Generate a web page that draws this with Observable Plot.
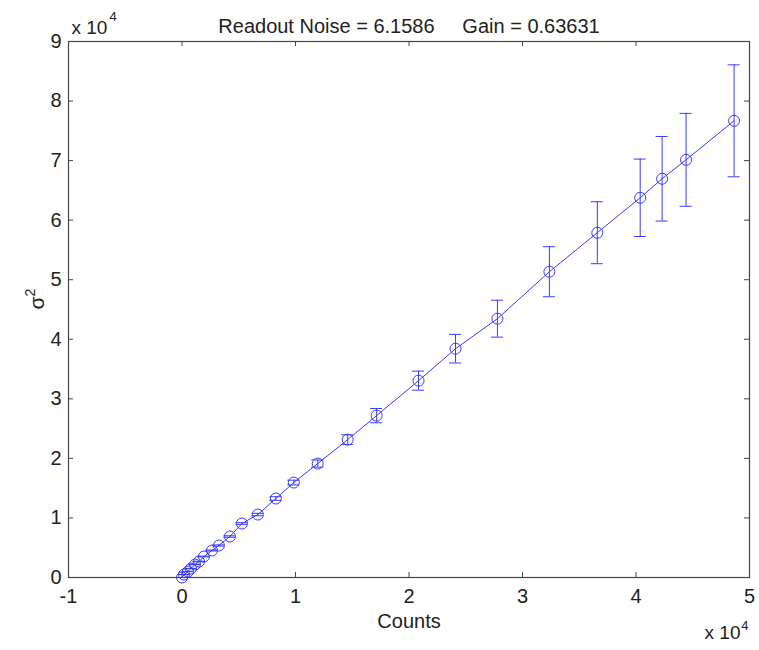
<!DOCTYPE html>
<html>
<head>
<meta charset="utf-8">
<script src="https://cdn.jsdelivr.net/npm/d3@7"></script>
<script src="https://cdn.jsdelivr.net/npm/@observablehq/plot@0.6"></script>
<style>
  body { margin: 0; background: #fff; }
  #chart svg { font-family: "Liberation Sans", Arial, sans-serif; }
</style>
</head>
<body>
<div id="chart"></div>
<script>
// Counts (x 10^4)
const counts = [0, 0.018, 0.053, 0.079, 0.114, 0.150, 0.193, 0.264, 0.325, 0.422, 0.528, 0.668, 0.827, 0.985,
  1.196, 1.460, 1.715, 2.084, 2.410, 2.779, 3.237, 3.659, 4.037, 4.230, 4.441, 4.864];
// sigma^2 (x 10^4)
const variance = [0, 0.050, 0.101, 0.151, 0.218, 0.268, 0.352, 0.453, 0.537, 0.688, 0.906, 1.057, 1.326, 1.594,
  1.913, 2.315, 2.718, 3.305, 3.842, 4.346, 5.134, 5.789, 6.376, 6.695, 7.013, 7.668];
// error bar half-length (x 10^4)
const errHalf = [0, 0.001, 0.002, 0.003, 0.004, 0.005, 0.006, 0.008, 0.010, 0.012, 0.014, 0.02, 0.03, 0.04,
  0.06, 0.08, 0.12, 0.16, 0.24, 0.31, 0.42, 0.52, 0.65, 0.71, 0.78, 0.94];

const xTicks = [-1, 0, 1, 2, 3, 4, 5];
const yTicks = [0, 1, 2, 3, 4, 5, 6, 7, 8, 9];
const titleText = "Readout Noise = 6.1586     Gain = 0.63631";
const xLabel = "Counts";
const yLabel = "σ";
const yLabelSup = "2";
const expBase = "x 10";
const expSup = "4";

const data = counts.map((c, i) => ({x: c, y: variance[i], e: errHalf[i]}));

const blue = "#3a3aff";
const ink = "#222";
const W = 759, H = 650;
const mL = 68, mR = 10, mT = 41, mB = 73;
const pxX = (W - mL - mR) / 6;   // px per x unit
const pxY = (H - mT - mB) / 9;   // px per y unit
const tickLen = 5;
const capHalf = 6 / pxX;
const caps = data.filter(d => d.e > 0);

const chart = Plot.plot({
  width: W,
  height: H,
  marginLeft: mL,
  marginRight: mR,
  marginTop: mT,
  marginBottom: mB,
  style: {fontFamily: "Liberation Sans, Arial, sans-serif", fontSize: "20px", background: "#fff", color: ink},
  x: {domain: [-1, 5], ticks: xTicks, label: null},
  y: {domain: [0, 9], ticks: yTicks, label: null},
  marks: [
    // inward ticks on all four sides
    Plot.ruleX(xTicks, {x: d => d, y1: 0, y2: tickLen / pxY, stroke: "#444"}),
    Plot.ruleX(xTicks, {x: d => d, y1: 9 - tickLen / pxY, y2: 9, stroke: "#444"}),
    Plot.ruleY(yTicks, {y: d => d, x1: -1, x2: -1 + tickLen / pxX, stroke: "#444"}),
    Plot.ruleY(yTicks, {y: d => d, x1: 5 - tickLen / pxX, x2: 5, stroke: "#444"}),
    Plot.frame({stroke: "#444", strokeWidth: 1.2}),
    Plot.axisX({ticks: xTicks, tickSize: 0, tickPadding: 11, tickFormat: d => String(d), fontSize: 20, label: null}),
    Plot.axisY({ticks: yTicks, tickSize: 0, tickPadding: 7, tickFormat: d => String(d), fontSize: 20, label: null}),
    // error bars
    Plot.ruleX(data, {x: "x", y1: d => d.y - d.e, y2: d => d.y + d.e, stroke: blue, strokeWidth: 1}),
    Plot.ruleY(caps, {y: d => d.y - d.e, x1: d => d.x - capHalf, x2: d => d.x + capHalf, stroke: blue, strokeWidth: 1}),
    Plot.ruleY(caps, {y: d => d.y + d.e, x1: d => d.x - capHalf, x2: d => d.x + capHalf, stroke: blue, strokeWidth: 1}),
    Plot.line(data, {x: "x", y: "y", stroke: blue, strokeWidth: 1}),
    Plot.dot(data, {x: "x", y: "y", r: 5.5, stroke: blue, strokeWidth: 1, fill: "none"}),
    // title
    Plot.text([titleText], {frameAnchor: "top", dy: -23, fontSize: 20, fill: ink, text: d => d}),
    // top-left exponent
    Plot.text([expBase], {frameAnchor: "top-left", dx: 3, dy: -21, textAnchor: "start", fontSize: 19, fill: ink, text: d => d}),
    Plot.text([expSup], {frameAnchor: "top-left", dx: 41, dy: -30, textAnchor: "start", fontSize: 13, fill: ink, text: d => d}),
    // bottom-right exponent
    Plot.text([expBase], {frameAnchor: "bottom-right", dx: -9, dy: 61, textAnchor: "end", fontSize: 19, fill: ink, text: d => d}),
    Plot.text([expSup], {frameAnchor: "bottom-right", dx: -1, dy: 52, textAnchor: "end", fontSize: 13, fill: ink, text: d => d}),
    // axis labels
    Plot.text([xLabel], {frameAnchor: "bottom", dy: 50, fontSize: 20, fill: ink, text: d => d}),
    Plot.text([yLabel], {frameAnchor: "left", dx: -31, dy: 0, rotate: -90, fontSize: 21, fill: ink, text: d => d}),
    Plot.text([yLabelSup], {frameAnchor: "left", dx: -38, dy: -13, rotate: -90, fontSize: 14, fill: ink, text: d => d})
  ]
});
document.getElementById("chart").appendChild(chart);
</script>
</body>
</html>
